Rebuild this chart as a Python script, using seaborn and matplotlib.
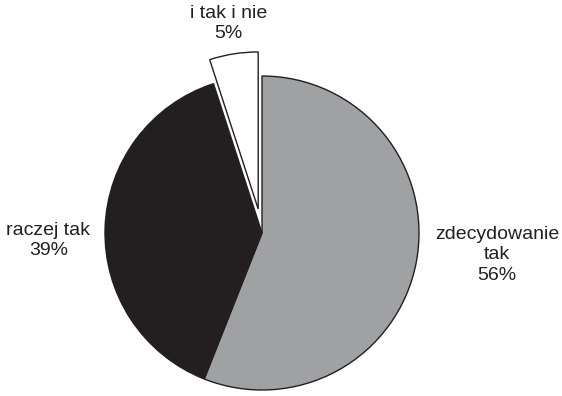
import matplotlib
matplotlib.use("Agg")
import matplotlib.pyplot as plt
import seaborn as sns

sns.set_style("white")
plt.rcParams['font.family'] = ['Liberation Sans', 'DejaVu Sans']

categories = ["zdecydowanie\ntak", "raczej tak", "i tak i nie"]
values = [56, 39, 5]
colors = ["#a0a1a3", "#231f20", "#ffffff"]
explode = [0, 0, 0.155]

fig = plt.figure(figsize=(5.62, 3.96), dpi=100)
ax = fig.add_axes([0, 0, 1, 1])
ax.pie(values, colors=colors, explode=explode, startangle=90, counterclock=False,
       radius=1.0, wedgeprops=dict(edgecolor="#231f20", linewidth=1.0))
ax.set_xlim(-262/157, 300/157)
ax.set_ylim(-163/157, 233/157)
ax.set_aspect('auto')
ax.axis('off')

label_pos = [(1.497, -0.14), (-1.36, -0.05), (-0.215, 1.335)]
for cat, v, (x, y) in zip(categories, values, label_pos):
    ax.text(x, y, f"{cat}\n{v}%", ha="center", va="center", fontsize=14,
            color="#231f20", linespacing=1.25)

fig.savefig("out.png", dpi=100)
